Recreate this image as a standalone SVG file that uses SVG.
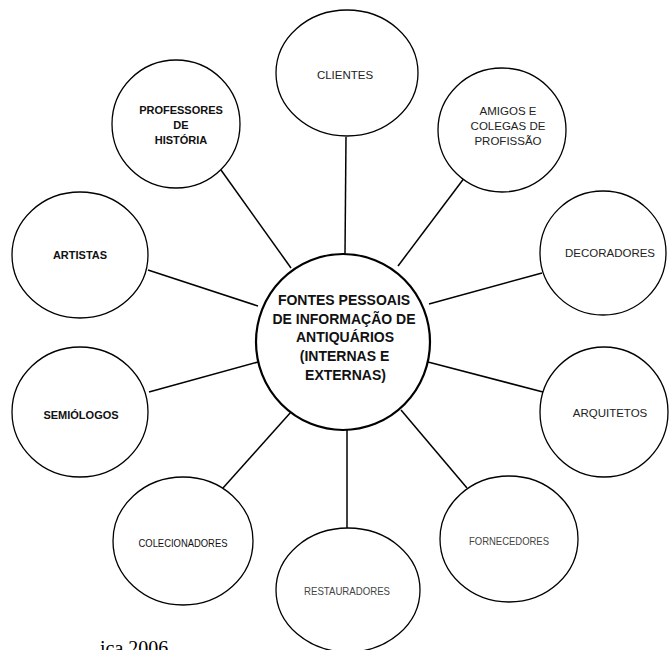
<svg xmlns="http://www.w3.org/2000/svg" width="670" height="650" viewBox="0 0 670 650">
<style>
.n{fill:#fff;stroke:#000;stroke-width:1.3}
.c{fill:#fff;stroke:#000;stroke-width:2.2}
.l{stroke:#000;stroke-width:1.5;fill:none}
text{font-family:"Liberation Sans",Arial,sans-serif;text-anchor:middle}
.b{font-size:11px;font-weight:bold;fill:#111}
.r{font-size:11.5px;fill:#222}
.g{font-size:11px;fill:#444}
.k{font-size:11px;fill:#111}
.m{font-size:14px;font-weight:bold;fill:#111}
</style>
<rect width="670" height="650" fill="#fff"/>
<g id="connectors">
<line class="l" x1="346" y1="137" x2="345" y2="254"/>
<line class="l" x1="465" y1="177" x2="398" y2="266"/>
<line class="l" x1="542" y1="273" x2="429" y2="304"/>
<line class="l" x1="543" y1="392" x2="428" y2="362"/>
<line class="l" x1="467" y1="488" x2="401" y2="410"/>
<line class="l" x1="347" y1="528" x2="347" y2="430"/>
<line class="l" x1="223" y1="488" x2="291" y2="412"/>
<line class="l" x1="149" y1="392" x2="258" y2="362"/>
<line class="l" x1="148" y1="270" x2="258" y2="306"/>
<line class="l" x1="221" y1="170" x2="291" y2="268"/>
</g>
<g id="center">
<ellipse class="c" cx="343" cy="342" rx="87" ry="88"/>
<text class="m" x="344" y="305">FONTES PESSOAIS</text>
<text class="m" x="344" y="323.5">DE INFORMAÇÃO DE</text>
<text class="m" x="345" y="342">ANTIQUÁRIOS</text>
<text class="m" x="344.5" y="361">(INTERNAS E</text>
<text class="m" x="345.5" y="379.5">EXTERNAS)</text>
</g>
<g id="clientes">
<ellipse class="n" cx="347" cy="73" rx="71" ry="63"/>
<text class="r" x="345" y="79">CLIENTES</text>
</g>
<g id="amigos">
<ellipse class="n" cx="502" cy="130" rx="64" ry="62"/>
<text class="r" x="508" y="115">AMIGOS E</text>
<text class="r" x="508" y="130">COLEGAS DE</text>
<text class="r" x="508" y="145">PROFISSÃO</text>
</g>
<g id="decoradores">
<ellipse class="n" cx="603" cy="253" rx="63" ry="62"/>
<text class="r" x="610" y="257">DECORADORES</text>
</g>
<g id="arquitetos">
<ellipse class="n" cx="604" cy="412" rx="64" ry="65"/>
<text class="r" x="610" y="417">ARQUITETOS</text>
</g>
<g id="fornecedores">
<ellipse class="n" cx="509" cy="539" rx="69" ry="63"/>
<text class="g" x="509" y="545" textLength="80" lengthAdjust="spacingAndGlyphs">FORNECEDORES</text>
</g>
<g id="restauradores">
<ellipse class="n" cx="348" cy="590" rx="72" ry="62"/>
<text class="g" x="347" y="595" textLength="86" lengthAdjust="spacingAndGlyphs">RESTAURADORES</text>
</g>
<g id="colecionadores">
<ellipse class="n" cx="183" cy="541" rx="70" ry="64"/>
<text class="k" x="183" y="547" textLength="89" lengthAdjust="spacingAndGlyphs">COLECIONADORES</text>
</g>
<g id="semiologos">
<ellipse class="n" cx="80" cy="412" rx="68" ry="65"/>
<text class="b" x="81" y="419">SEMIÓLOGOS</text>
</g>
<g id="artistas">
<ellipse class="n" cx="80" cy="255" rx="68" ry="63"/>
<text class="b" x="80" y="259">ARTISTAS</text>
</g>
<g id="professores">
<ellipse class="n" cx="176" cy="124" rx="64" ry="64"/>
<text class="b" x="181" y="114">PROFESSORES</text>
<text class="b" x="181" y="129">DE</text>
<text class="b" x="181" y="144">HISTÓRIA</text>
</g>
<text x="100" y="655" style="font-family:'Liberation Serif',serif;font-size:20px;text-anchor:start;fill:#000">ica 2006</text>
</svg>
